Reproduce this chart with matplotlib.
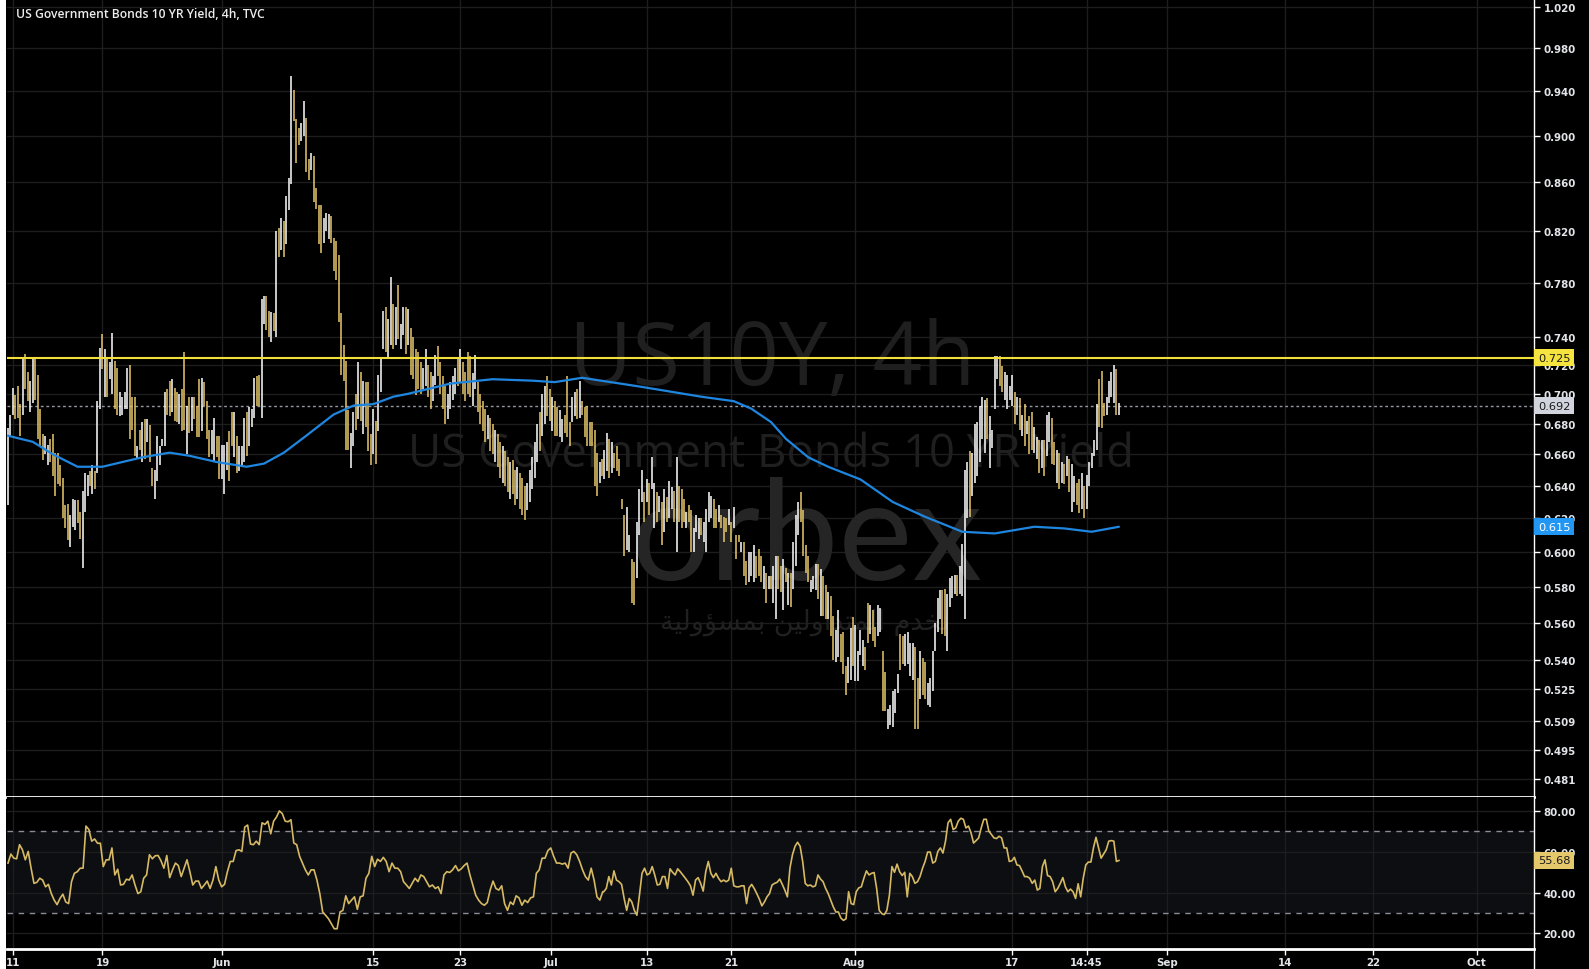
import numpy as np
import matplotlib
matplotlib.use("Agg")
import matplotlib.pyplot as plt
from matplotlib import font_manager as fm
from matplotlib.transforms import blended_transform_factory, offset_copy
from matplotlib.patches import Rectangle
from matplotlib.lines import Line2D
from matplotlib.ticker import FixedLocator, NullLocator

# ------------------------------------------------------------------ data
title = "US Government Bonds 10 YR Yield, 4h, TVC"
symbol_mark = "US10Y, 4h"
name_mark = "US Government Bonds 10 YR Yield"

# 4h bars: high / low yields (%) and direction (1 = up bar drawn white, 0 = down bar drawn gold)
bar_high = [
    0.677,0.686,0.704,0.699,0.705,0.693,0.725,0.728,0.715,0.709,
    0.725,0.724,0.713,0.690,0.673,0.672,0.666,0.670,0.673,0.661,
    0.661,0.653,0.645,0.628,0.629,0.622,0.632,0.631,0.631,0.624,
    0.637,0.648,0.647,0.649,0.653,0.649,0.695,0.732,0.742,0.731,
    0.725,0.722,0.743,0.723,0.718,0.701,0.698,0.701,0.718,0.720,
    0.698,0.698,0.665,0.676,0.681,0.683,0.683,0.679,0.651,0.650,
    0.672,0.665,0.670,0.701,0.703,0.709,0.710,0.704,0.701,0.700,
    0.703,0.729,0.692,0.698,0.698,0.698,0.692,0.710,0.711,0.708,
    0.695,0.676,0.676,0.684,0.672,0.672,0.666,0.666,0.668,0.675,
    0.688,0.688,0.672,0.665,0.665,0.684,0.688,0.691,0.690,0.711,
    0.712,0.713,0.768,0.770,0.770,0.759,0.758,0.757,0.820,0.823,
    0.831,0.828,0.849,0.864,0.954,0.941,0.915,0.907,0.911,0.931,
    0.916,0.880,0.885,0.882,0.855,0.841,0.841,0.831,0.835,0.834,
    0.832,0.815,0.812,0.801,0.757,0.734,0.723,0.689,0.674,0.688,
    0.700,0.722,0.715,0.709,0.708,0.708,0.673,0.690,0.682,0.713,
    0.725,0.759,0.762,0.753,0.784,0.764,0.762,0.778,0.749,0.762,
    0.762,0.760,0.746,0.740,0.731,0.729,
    0.722,0.718,0.731,0.720,0.715,0.712,0.727,0.733,0.722,0.712,
    0.705,0.700,0.708,0.712,0.718,0.725,0.731,0.722,0.715,0.729,
    0.726,0.714,0.727,0.708,0.700,0.695,0.690,0.686,0.684,0.680,
    0.676,0.673,0.668,0.665,0.662,0.658,0.655,0.656,0.650,0.652,
    0.648,0.645,0.640,0.642,0.650,0.658,0.668,0.680,0.688,0.700,
    0.705,0.712,0.703,0.698,0.695,
    0.691,0.689,0.683,0.686,0.712,0.681,0.698,0.701,0.703,0.709,
    0.695,0.691,0.692,0.681,0.681,0.676,0.661,0.655,0.657,0.663,
    0.674,0.670,0.668,0.661,0.665,0.657,0.632,0.622,0.627,0.610,
    0.596,0.594,0.618,0.638,0.650,0.636,0.644,0.642,0.658,0.642,
    0.636,0.634,0.630,0.638,0.633,0.643,0.639,0.637,0.658,0.640,
    0.638,0.632,0.624,0.628,0.625,0.614,0.622,0.620,0.620,0.618,
    0.626,0.636,0.634,0.632,0.626,0.628,0.622,0.621,0.620,0.626,
    0.618,0.627,0.610,0.610,0.606,0.606,0.595,0.600,0.600,0.604,
    0.598,0.602,0.598,0.592,0.588,0.586,0.586,0.592,0.598,0.598,
    0.592,0.596,0.591,0.588,0.588,0.606,0.622,0.630,0.636,0.625,
    0.604,0.598,0.584,0.586,0.593,0.593,0.590,0.586,0.581,
    0.577,0.575,0.564,0.556,0.567,0.554,0.555,0.537,0.542,0.557,
    0.563,0.559,0.545,0.556,0.551,0.547,0.571,0.570,0.567,0.558,
    0.570,0.568,0.545,0.534,0.515,0.517,0.524,0.525,0.533,0.554,
    0.553,0.554,0.555,0.549,0.549,0.547,0.531,0.545,0.541,0.539,
    0.528,0.531,0.545,0.560,0.574,0.578,0.578,0.579,0.576,0.585,
    0.586,0.587,0.587,0.592,0.605,0.650,0.655,0.662,
    0.661,0.680,0.681,0.692,0.698,0.696,0.697,0.685,0.676,0.726,
    0.726,0.726,0.719,0.715,0.713,0.705,0.713,0.701,0.698,0.697,
    0.686,0.693,0.682,0.685,0.688,0.678,0.671,0.669,0.669,0.669,
    0.686,0.688,0.684,0.668,0.663,0.661,0.655,0.654,0.659,0.657,
    0.654,0.646,0.642,0.644,0.648,0.640,0.647,0.655,0.661,0.669,
    0.693,0.710,0.716,0.694,0.698,0.709,0.715,0.720,0.717,0.694,
]
bar_low = [
    0.628,0.671,0.686,0.683,0.684,0.672,0.686,0.703,0.695,0.688,
    0.694,0.696,0.670,0.665,0.656,0.660,0.653,0.655,0.646,0.634,
    0.641,0.640,0.620,0.614,0.607,0.603,0.615,0.613,0.617,0.608,
    0.591,0.624,0.634,0.640,0.635,0.638,0.648,0.690,0.717,0.698,
    0.698,0.710,0.700,0.690,0.686,0.685,0.686,0.690,0.690,0.670,
    0.676,0.659,0.657,0.663,0.655,0.657,0.668,0.655,0.640,0.632,
    0.643,0.653,0.665,0.665,0.686,0.685,0.688,0.682,0.681,0.680,
    0.675,0.676,0.660,0.674,0.675,0.683,0.671,0.671,0.675,0.692,
    0.670,0.658,0.660,0.655,0.658,0.644,0.644,0.635,0.650,0.643,
    0.665,0.658,0.648,0.649,0.653,0.655,0.659,0.665,0.678,0.684,
    0.692,0.692,0.684,0.749,0.745,0.740,0.736,0.744,0.740,0.800,
    0.805,0.800,0.810,0.837,0.859,0.913,0.876,0.892,0.895,0.900,
    0.869,0.862,0.870,0.844,0.838,0.810,0.803,0.811,0.820,0.814,
    0.811,0.789,0.782,0.751,0.713,0.709,0.663,0.663,0.651,0.665,
    0.676,0.683,0.682,0.673,0.678,0.662,0.653,0.660,0.654,0.675,
    0.701,0.731,0.729,0.724,0.734,0.731,0.734,0.738,0.731,0.741,
    0.728,0.734,0.713,0.710,0.699,0.703,
    0.700,0.703,0.705,0.698,0.690,0.695,0.706,0.712,0.700,0.690,
    0.680,0.683,0.690,0.696,0.700,0.705,0.708,0.700,0.695,0.700,
    0.698,0.692,0.703,0.688,0.680,0.675,0.668,0.670,0.662,0.660,
    0.655,0.652,0.645,0.642,0.640,0.636,0.632,0.635,0.628,0.632,
    0.626,0.622,0.619,0.625,0.630,0.638,0.645,0.655,0.662,0.672,
    0.680,0.685,0.682,0.675,0.672,
    0.672,0.671,0.668,0.674,0.671,0.665,0.681,0.685,0.683,0.684,
    0.686,0.671,0.665,0.665,0.665,0.640,0.634,0.642,0.646,0.644,
    0.649,0.645,0.648,0.651,0.649,0.646,0.626,0.598,0.601,0.600,
    0.571,0.570,0.585,0.610,0.630,0.618,0.630,0.622,0.638,0.614,
    0.618,0.624,0.604,0.612,0.618,0.620,0.626,0.618,0.600,0.618,
    0.614,0.618,0.614,0.618,0.600,0.600,0.612,0.608,0.610,0.606,
    0.600,0.618,0.620,0.614,0.614,0.618,0.614,0.606,0.612,0.616,
    0.606,0.614,0.596,0.606,0.600,0.586,0.581,0.583,0.586,0.583,
    0.585,0.586,0.583,0.579,0.571,0.579,0.579,0.571,0.562,0.579,
    0.577,0.567,0.583,0.570,0.569,0.579,0.592,0.610,0.618,0.598,
    0.588,0.583,0.577,0.579,0.578,0.573,0.564,0.564,0.562,
    0.562,0.553,0.540,0.539,0.542,0.539,0.533,0.522,0.528,0.530,
    0.537,0.529,0.529,0.543,0.537,0.535,0.549,0.554,0.550,0.547,
    0.553,0.555,0.514,0.514,0.505,0.507,0.506,0.513,0.523,0.535,
    0.538,0.537,0.538,0.532,0.530,0.505,0.505,0.520,0.522,0.520,
    0.517,0.516,0.524,0.545,0.555,0.562,0.554,0.553,0.545,0.569,
    0.574,0.576,0.575,0.576,0.575,0.562,0.620,0.621,
    0.634,0.642,0.646,0.655,0.670,0.661,0.670,0.651,0.664,0.690,
    0.710,0.705,0.701,0.696,0.690,0.696,0.692,0.680,0.686,0.676,
    0.672,0.665,0.673,0.660,0.663,0.661,0.657,0.648,0.651,0.646,
    0.659,0.668,0.654,0.653,0.642,0.638,0.642,0.641,0.646,0.636,
    0.624,0.630,0.628,0.623,0.626,0.620,0.626,0.640,0.651,0.659,
    0.663,0.678,0.677,0.685,0.686,0.694,0.698,0.694,0.686,0.686,
]
bar_up = [
    1,1,1,0,0,0,1,0,0,1, 1,0,0,0,0,1,1,0,0,0, 0,0,0,0,0,1,1,1,0,0,
    1,1,1,0,1,0,1,1,0,1, 0,1,1,0,0,1,1,1,1,0, 0,0,1,0,1,0,1,0,0,1,
    1,1,1,1,0,0,1,0,0,1, 0,0,1,0,1,0,0,0,1,0, 0,0,1,1,0,0,1,1,1,0,
    0,1,0,1,1,1,0,1,1,1, 0,0,1,1,0,0,1,0,1,0, 1,0,1,1,1,0,0,0,1,1,
    0,0,1,0,0,0,0,1,1,1, 0,0,0,0,0,0,0,0,1,1, 0,1,0,1,0,0,0,1,0,1,
    1,1,0,1,1,0,1,0,1,1, 0,1,0,0,0,0,
    0,1,1,0,0,1,1,0,0,0, 0,1,1,1,1,0,1,0,0,0, 0,1,1,0,0,0,0,1,0,0,
    1,0,0,1,0,0,1,0,0,1, 0,0,0,1,1,1,1,1,0,1, 1,0,0,1,0,
    0,1,1,0,0,0,1,1,0,1, 0,0,0,0,0,0,0,1,0,1, 1,0,1,0,0,0,0,0,1,1,
    0,0,1,1,1,0,1,0,1,1, 0,1,0,1,0,1,1,0,1,0, 0,0,1,0,0,1,1,1,0,1,
    1,1,1,0,0,1,0,0,0,1, 0,1,0,0,1,0,0,1,1,1, 0,0,0,1,0,1,0,1,1,0,
    0,1,0,1,0,1,1,1,0,0, 0,0,1,1,1,0,1,0,0,
    1,0,0,1,1,0,0,0,1,1, 0,1,1,1,1,0,0,1,0,0, 1,1,0,0,1,1,1,1,1,0,
    0,1,1,1,1,0,0,1,0,0, 1,1,1,1,1,1,0,0,1,1, 1,1,0,1,1,1,1,0,
    1,1,1,1,1,1,0,1,1,1, 1,0,0,1,1,1,1,0,1,0, 1,0,1,0,0,1,1,0,1,0,
    1,1,0,0,1,0,1,0,1,0, 1,1,0,0,1,0,1,1,1,1, 1,0,0,0,1,1,1,1,0,1,
]

# moving average (bar number, yield)
ma_bar = [0,10,18,28,38,46,54,65,73,84,96,103,111,120,131,139,147,155,161,178,
          195,211,220,231,254,279,292,299,307,313,322,330,343,356,369,384,397,413,425,436,447]
ma_value = [0.672,0.668,0.660,0.652,0.652,0.655,0.658,0.661,0.659,0.655,0.652,0.654,
            0.661,0.672,0.686,0.692,0.693,0.698,0.700,0.707,0.710,0.709,0.708,0.711,
            0.705,0.698,0.695,0.690,0.681,0.670,0.658,0.652,0.644,0.630,0.621,0.612,
            0.611,0.615,0.614,0.612,0.615]

# RSI (two consecutive stretches of the history)
rsi_part1 = [
    54.4,58.8,56.8,56.5,63.4,60.9,56.0,60.1,51.9,44.5,45.0,47.0,46.1,42.8,44.0,39.5,36.3,34.1,37.1,39.2,
    35.4,34.6,45.3,49.4,50.2,51.9,51.9,72.5,70.8,65.1,66.2,64.1,64.1,52.7,56.0,56.0,61.8,48.6,51.4,43.7,
    44.0,46.5,46.1,48.6,43.7,39.5,40.4,47.0,48.6,58.5,56.5,58.0,58.1,55.5,51.9,58.1,47.3,51.1,54.4,53.2,
    47.8,51.9,56.0,50.2,43.7,45.6,45.6,42.0,43.7,45.6,42.0,46.1,52.7,46.1,42.8,44.0,50.2,55.2,55.2,60.5,
    60.9,60.1,72.0,73.0,63.7,63.4,65.1,63.4,74.1,73.3,74.9,68.7,74.9,76.9,79.9,78.6,74.9,74.6,75.6,64.2,
    63.4,57.7,54.4,51.1,48.6,51.1,51.1,46.1,39.5,30.5,28.9,27.2,24.7,22.3,22.3,30.5,31.3,38.4,34.6,36.3,
    37.9,31.8,37.9,38.4,47.0,49.4,57.7,52.7,56.3,55.2,57.2,55.2,50.2,54.4,51.9,51.9,50.2,45.3,43.7,42.0,
    44.5,47.0,45.3,48.6,47.8,45.3,42.8,43.7,42.0,42.8,39.5,48.6,50.2,49.8,51.1,53.2,50.6,51.6,53.2,54.4,
    48.6,43.7,38.7,36.3,34.6,33.8,35.1,41.2,45.6,42.0,41.2,43.3,34.6,31.3,35.4,34.1,38.4,37.4,33.8,36.3,
    35.1,37.4,37.9,49.4,51.1,56.8,56.8,60.5,61.8,57.7,54.4,54.4,53.9,54.4,51.9,59.3,60.1,58.5,55.2,51.1,
    47.8,46.1,51.9,46.1,37.9,36.3,40.4,
]
rsi_part2 = [
    40.4,42.0,47.8,43.7,50.6,46.1,45.3,44.0,37.1,31.3,37.1,35.4,31.3,28.9,38.7,49.4,51.9,48.6,49.4,52.7,
    48.6,43.7,44.0,47.8,47.8,42.0,51.6,49.9,48.6,51.6,50.2,48.6,47.0,45.3,43.3,38.7,46.1,47.3,44.5,40.7,
    50.2,55.2,49.4,47.3,49.4,47.0,45.3,46.1,45.3,46.1,51.9,43.3,42.8,42.8,43.3,43.3,34.6,42.3,44.0,42.0,
    39.5,36.8,33.5,35.4,37.9,39.5,43.7,44.5,45.0,46.6,44.0,41.2,37.9,51.9,58.5,62.6,64.6,62.6,55.2,44.5,
    43.3,43.7,42.8,43.3,48.6,46.6,45.3,42.0,39.5,36.3,33.0,30.5,30.5,27.5,26.4,27.2,40.4,34.6,34.1,40.4,
    42.3,42.8,47.0,50.6,48.6,49.4,49.8,42.0,31.3,29.7,29.2,31.3,38.7,52.7,49.9,53.9,50.2,48.3,49.9,37.9,
    49.4,47.8,44.5,45.3,47.8,51.9,55.2,59.8,59.8,54.4,55.2,60.1,61.8,59.3,65.1,74.1,75.8,70.8,71.6,74.9,
    76.3,75.8,71.6,72.5,69.2,64.2,65.4,66.7,71.6,75.8,75.8,70.0,68.4,66.7,66.4,67.5,66.7,61.8,61.8,55.2,
    55.5,57.2,53.5,53.2,50.6,47.8,47.8,47.0,44.5,46.1,41.2,42.0,52.7,56.0,48.3,47.8,45.3,40.4,42.0,44.5,
    47.3,42.8,40.4,41.7,40.4,37.1,44.3,37.9,47.0,53.5,54.9,54.9,61.8,67.0,61.8,56.8,58.8,60.9,65.1,65.4,
    65.1,55.2,55.68,
]

price_ticks = [1.020,0.980,0.940,0.900,0.860,0.820,0.780,0.740,0.720,0.700,0.680,0.660,
               0.640,0.620,0.600,0.580,0.560,0.540,0.525,0.509,0.495,0.481]
rsi_ticks = [20, 40, 60, 80]
date_labels = ["11","19","Jun","15","23","Jul","13","21","Aug","17","14:45","Sep","14","22","Oct"]
date_tick_bar = [2, 38, 86, 147, 182, 218.5, 257, 291, 340.6, 404, 434, 466.3, 513.8, 549.2, 591]
resistance_level = 0.725
last_close = 0.692
ma_last = 0.615
rsi_last = 55.68
rsi_upper, rsi_lower = 70, 30

# ------------------------------------------------------------------ style
W, H = 1589, 970
BG = "black"
WHITE_BAR = "#ffffff"
GOLD_BAR = "#e8c86a"
GRID = "#1d1d1d"
AXIS_TXT = "#e2e4e9"

avail = {f.name for f in fm.fontManager.ttflist}
def pick(names):
    for nm in names:
        if nm in avail:
            return nm
    return "DejaVu Sans"
AXF = pick(["Liberation Sans Narrow", "DejaVu Sans"])
TITLEF = pick(["Open Sans", "Noto Sans", "DejaVu Sans"])
WMF = pick(["Open Sans", "Noto Sans", "DejaVu Sans"])
LOGOF = pick(["Lato", "Open Sans", "DejaVu Sans"])
AX_SIZE = 8.8 if AXF == "Liberation Sans Narrow" else 7.4

fig = plt.figure(figsize=(W / 100, H / 100), dpi=100, facecolor=BG)
def fx(px): return px / W
def fy(py): return 1 - py / H

L, R = 7, 1534
Y_SEP, Y_BOT = 797.6, 949.6
ax = fig.add_axes([fx(L), fy(Y_SEP), (R - L) / W, Y_SEP / H], facecolor=BG)
axr = fig.add_axes([fx(L), fy(Y_BOT), (R - L) / W, (Y_BOT - Y_SEP) / H], facecolor=BG)

n = len(bar_high)
xs = np.arange(n)
XL = (-0.4, 614)

# ---------------- main price panel
ax.set_yscale("log")
ax.set_ylim(0.4729, 1.0281)
ax.set_xlim(*XL)
ax.yaxis.set_major_locator(FixedLocator(price_ticks))
ax.yaxis.set_minor_locator(NullLocator())
ax.set_yticklabels([f"{v:.3f}" for v in price_ticks], fontfamily=AXF, fontweight="bold")
ax.yaxis.tick_right()
ax.tick_params(axis="y", which="major", length=4, width=1, color="white",
               labelcolor=AXIS_TXT, labelsize=AX_SIZE, pad=3)
ax.set_xticks(date_tick_bar)
ax.tick_params(axis="x", length=0, labelbottom=False)
ax.grid(True, color=GRID, lw=1, zorder=0)
ax.set_axisbelow(True)
for s in ["top", "left"]:
    ax.spines[s].set_visible(False)
ax.spines["right"].set_color("white"); ax.spines["right"].set_linewidth(1)
ax.spines["bottom"].set_color("white"); ax.spines["bottom"].set_linewidth(2)

# watermarks
renderer = fig.canvas.get_renderer()
def fit_text(axis, cx, base_y, s, width_px, **kw):
    t = axis.text(fx(cx), fy(base_y), s, transform=fig.transFigure, ha="center",
                  va="baseline", fontsize=40, zorder=1, **kw)
    w = t.get_window_extent(renderer=renderer).width
    t.set_fontsize(40 * width_px / w)
    return t

fit_text(ax, 772, 385, symbol_mark, 406, color="#1f1f1f", family=WMF)
fit_text(ax, 771, 467, name_mark, 725, color="#1f1f1f", family=WMF)
fit_text(ax, 806, 580, "orbex", 352, color="#252525", family=LOGOF)
arabic_visual = ("\uFE94\uFEF4\uFEDF\uFEED\uFE86\uFEB4\uFEE4\uFE91 "
                 "\uFEE6\uFEF4\uFEDF\uFEED\uFE8D\uFEAA\uFE98\uFEE4\uFEDF\uFE8D "
                 "\uFEE1\uFEAA\uFEA8\uFEE7")
fit_text(ax, 805, 630, arabic_visual, 289, color="#202020", family="DejaVu Sans")

# bars
cols = [WHITE_BAR if u else GOLD_BAR for u in bar_up]
ax.vlines(xs, bar_low, bar_high, colors=cols, linewidth=1.1, zorder=3)
# moving average
ax.plot(ma_bar, ma_value, color="#1f86e0", lw=1.6, zorder=4, solid_capstyle="round")
# levels
ax.axhline(resistance_level, color="#f2df3a", lw=1.5, zorder=5)
ax.axhline(last_close, color="#9598a1", lw=1, ls=(0, (2, 2)), zorder=2)

def tag(axis, yval, text, fc, tc):
    tr = offset_copy(blended_transform_factory(axis.transAxes, axis.transData),
                     fig=fig, x=4, y=0, units="dots")
    axis.text(1.0, yval, text, transform=tr, ha="left", va="center", fontsize=8.2,
              color=tc, family="DejaVu Sans", zorder=30, clip_on=False,
              bbox=dict(boxstyle="square,pad=0.32", fc=fc, ec="none"))

tag(ax, resistance_level, f"{resistance_level:.3f}", "#f5e43f", "#1a1a1a")
tag(ax, last_close, f"{last_close:.3f}", "#d1d4dc", "#1a1a1a")
tag(ax, ma_last, f"{ma_last:.3f}", "#2196f3", "#ffffff")

# ---------------- RSI panel
axr.set_xlim(*XL)
axr.set_ylim(12.6, 86.9)
axr.axhspan(rsi_lower, rsi_upper, color="#0c0e12", zorder=0.2, lw=0)
axr.set_yticks(rsi_ticks)
axr.set_yticklabels([f"{v:.2f}" for v in rsi_ticks], fontfamily=AXF, fontweight="bold")
axr.yaxis.tick_right()
axr.tick_params(axis="y", length=4, width=1, color="white", labelcolor=AXIS_TXT,
                labelsize=AX_SIZE, pad=3)
axr.set_xticks(date_tick_bar)
axr.set_xticklabels(date_labels, fontfamily=AXF, fontweight="bold")
axr.tick_params(axis="x", length=4, width=1, color="white", labelcolor=AXIS_TXT,
                labelsize=AX_SIZE, pad=2)
axr.grid(True, color=GRID, lw=1)
axr.set_axisbelow(True)
for s in ["top", "left"]:
    axr.spines[s].set_visible(False)
axr.spines["right"].set_color("white"); axr.spines["right"].set_linewidth(1)
axr.spines["bottom"].set_color("white"); axr.spines["bottom"].set_linewidth(2)
axr.axhline(rsi_upper, color="#8a8d96", lw=1, ls=(0, (4, 4)), zorder=2)
axr.axhline(rsi_lower, color="#8a8d96", lw=1, ls=(0, (4, 4)), zorder=2)
rsi_x = np.concatenate([np.linspace(0, 239.3, len(rsi_part1)),
                        np.linspace(239.7, n - 1, len(rsi_part2))])
rsi_vals = np.array(rsi_part1 + rsi_part2)
axr.plot(rsi_x, rsi_vals, color="#d6b963", lw=1.2, zorder=4)
tag(axr, rsi_last, f"{rsi_last:.2f}", "#e6c86c", "#1a1a1a")

# ---------------- frame decorations
fig.add_artist(Line2D([fx(R), fx(R)], [0, fy(Y_BOT)], color="white", lw=1,
                      transform=fig.transFigure))
fig.add_artist(Rectangle((0, 0), fx(5.5), 1, transform=fig.transFigure,
                         facecolor="white", edgecolor="none", zorder=50))
fig.text(fx(16), fy(14), title, color="#ececec", fontsize=8.7, fontweight="semibold",
         family=TITLEF, ha="left", va="center")

fig.savefig("out.png", dpi=100, facecolor=BG)
